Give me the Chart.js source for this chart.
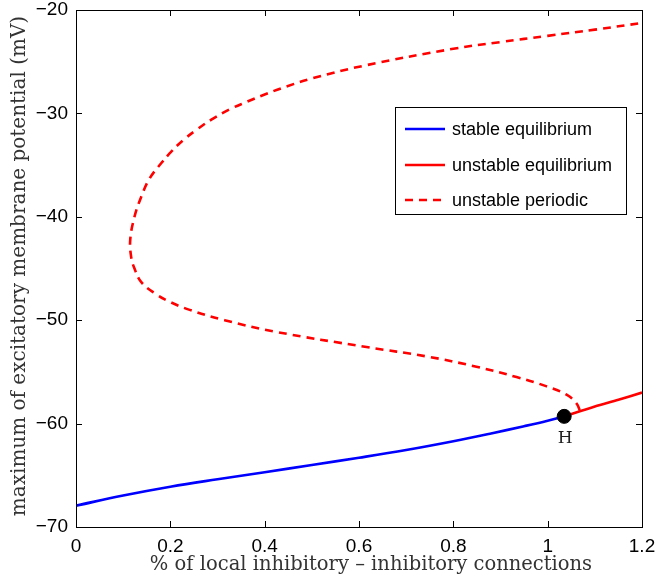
<!DOCTYPE html>
<html>
<head>
<meta charset="utf-8">
<script src="https://cdn.jsdelivr.net/npm/chart.js@4/dist/chart.umd.min.js"></script>
<style>
  html, body { margin: 0; padding: 0; background: #fff; }
  #wrap { width: 660px; height: 578px; }
</style>
</head>
<body>
<div id="wrap"><canvas id="myChart" width="660" height="578"></canvas></div>
<script>
// stable equilibrium branch
const stableX = [0, 0.1, 0.2, 0.3, 0.4, 0.5, 0.6, 0.7, 0.8, 0.88, 0.95, 1.0, 1.035];
const stableY = [-67.94, -66.95, -66.1, -65.38, -64.7, -64.0, -63.3, -62.55, -61.7, -60.95, -60.25, -59.72, -59.3];

// unstable equilibrium branch (after Hopf point)
const unstableX = [1.035, 1.1, 1.15, 1.2];
const unstableY = [-59.3, -58.35, -57.7, -57.0];

// unstable periodic orbit maxima
const periodicX = [1.068, 1.061, 1.04, 0.998, 0.934, 0.849, 0.743, 0.616, 0.421, 0.315, 0.241, 0.198, 0.167,
                   0.138, 0.124, 0.117, 0.115, 0.124, 0.138, 0.156, 0.181, 0.202, 0.227, 0.255, 0.287,
                   0.326, 0.361, 0.404, 0.446, 0.502, 0.609, 0.8, 0.9, 1.0, 1.1, 1.2];
const periodicY = [-58.7, -58.04, -57.2, -56.4, -55.5, -54.5, -53.5, -52.6, -51.1, -50.0, -49.0, -48.2, -47.4,
                   -46.3, -45.0, -43.9, -42.2, -40.0, -38.1, -36.3, -34.8, -33.7, -32.6, -31.6, -30.6,
                   -29.6, -28.9, -28.1, -27.4, -26.6, -25.4, -23.75, -23.1, -22.5, -21.9, -21.25];

// Hopf point
const hopfX = [1.035];
const hopfY = [-59.3];
const hopfLabel = 'H';

const seriesNames = ['stable equilibrium', 'unstable equilibrium', 'unstable periodic'];
const xTitle = '% of local inhibitory \u2013 inhibitory connections';
const yTitle = 'maximum of excitatory membrane potential (mV)';
const xTicks = [0, 0.2, 0.4, 0.6, 0.8, 1, 1.2];
const yTicks = [-70, -60, -50, -40, -30, -20];

const toPoints = (xs, ys) => xs.map((x, i) => ({x: x, y: ys[i]}));

const serif = "'DejaVu Serif', 'Liberation Serif', serif";
const sans = "'Liberation Sans', Arial, sans-serif";

// frame, inward ticks, titles, H label and legend box like the matlab figure
const matlabStyle = {
    id: 'matlabStyle',
    afterDraw(chart) {
        const ctx = chart.ctx;
        const a = chart.chartArea;
        const xs = chart.scales.x;
        const ys = chart.scales.y;
        ctx.save();
        ctx.strokeStyle = '#000';
        ctx.lineWidth = 1;
        ctx.setLineDash([]);
        ctx.strokeRect(Math.round(a.left) + 0.5, Math.round(a.top) + 0.5,
            Math.round(a.right - a.left), Math.round(a.bottom - a.top));
        ctx.beginPath();
        xTicks.forEach(t => {
            const px = Math.round(xs.getPixelForValue(t)) + 0.5;
            ctx.moveTo(px, a.bottom); ctx.lineTo(px, a.bottom - 6);
            ctx.moveTo(px, a.top); ctx.lineTo(px, a.top + 6);
        });
        yTicks.forEach(t => {
            const py = Math.round(ys.getPixelForValue(t)) + 0.5;
            ctx.moveTo(a.left, py); ctx.lineTo(a.left + 6, py);
            ctx.moveTo(a.right, py); ctx.lineTo(a.right - 6, py);
        });
        ctx.stroke();

        // axis titles
        ctx.fillStyle = '#333';
        ctx.textAlign = 'center';
        ctx.textBaseline = 'middle';
        ctx.font = '19.5px ' + serif;
        ctx.fillText(xTitle, 371, 565);
        ctx.save();
        ctx.translate(20, 266);
        ctx.rotate(-Math.PI / 2);
        ctx.font = '20px ' + serif;
        ctx.fillText(yTitle, 0, 0);
        ctx.restore();

        // H label under the Hopf point
        ctx.fillStyle = '#222';
        ctx.font = '17px ' + serif;
        ctx.fillText(hopfLabel, xs.getPixelForValue(hopfX[0]) + 1, ys.getPixelForValue(hopfY[0]) + 22);

        // legend
        const bx = 395, by = 107, bw = 231, bh = 107;
        ctx.fillStyle = '#fff';
        ctx.fillRect(bx, by, bw, bh);
        ctx.strokeStyle = '#000';
        ctx.strokeRect(bx + 0.5, by + 0.5, bw, bh);
        const rows = [129, 165, 200];
        for (let i = 0; i < 3; i++) {
            const ds = chart.data.datasets[i];
            ctx.strokeStyle = ds.borderColor;
            ctx.lineWidth = ds.borderWidth;
            ctx.setLineDash(ds.borderDash || []);
            ctx.beginPath();
            ctx.moveTo(405, rows[i]);
            ctx.lineTo(445, rows[i]);
            ctx.stroke();
            ctx.setLineDash([]);
            ctx.fillStyle = '#000';
            ctx.font = '18px ' + sans;
            ctx.textAlign = 'left';
            ctx.fillText(ds.label, 452, rows[i] + 1);
        }
        ctx.restore();
    }
};

const data = {
    datasets: [
        {
            label: seriesNames[0],
            data: toPoints(stableX, stableY),
            borderColor: '#0000ff',
            borderWidth: 2.6,
            tension: 0.4,
            pointRadius: 0,
            showLine: true,
            order: 3
        },
        {
            label: seriesNames[1],
            data: toPoints(unstableX, unstableY),
            borderColor: '#ff0000',
            borderWidth: 2.6,
            tension: 0.3,
            pointRadius: 0,
            showLine: true,
            order: 2
        },
        {
            label: seriesNames[2],
            data: toPoints(periodicX, periodicY),
            borderColor: '#ff0000',
            borderWidth: 2.6,
            borderDash: [8, 6],
            tension: 0.4,
            pointRadius: 0,
            showLine: true,
            order: 4
        },
        {
            label: 'Hopf',
            data: toPoints(hopfX, hopfY),
            backgroundColor: '#000',
            borderColor: '#000',
            pointRadius: 7,
            showLine: false,
            order: 1
        }
    ]
};

const config = {
    type: 'scatter',
    data: data,
    options: {
        responsive: false,
        animation: false,
        layout: { padding: { left: 0, top: 10, right: 18, bottom: 0 } },
        plugins: { legend: { display: false }, tooltip: { enabled: false } },
        scales: {
            x: {
                type: 'linear',
                min: 0, max: 1.2,
                afterFit: s => { s.height = 51; s.paddingLeft = 0; s.paddingRight = 0; },
                afterBuildTicks: s => { s.ticks = xTicks.map(v => ({value: v})); },
                grid: { display: false, drawTicks: false },
                border: { display: false },
                ticks: {
                    color: '#000',
                    font: { family: sans, size: 19 },
                    padding: 8,
                    maxRotation: 0,
                    callback: v => String(Math.round(v * 10) / 10)
                }
            },
            y: {
                type: 'linear',
                min: -70, max: -20,
                afterFit: s => { s.width = 76; s.paddingTop = 0; s.paddingBottom = 0; },
                afterBuildTicks: s => { s.ticks = yTicks.map(v => ({value: v})); },
                grid: { display: false, drawTicks: false },
                border: { display: false },
                ticks: {
                    color: '#000',
                    font: { family: sans, size: 19 },
                    padding: 8,
                    callback: v => String(v).replace('-', '\u2212')
                }
            }
        }
    },
    plugins: [matlabStyle]
};

const myChart = new Chart(document.getElementById('myChart'), config);
</script>
</body>
</html>
